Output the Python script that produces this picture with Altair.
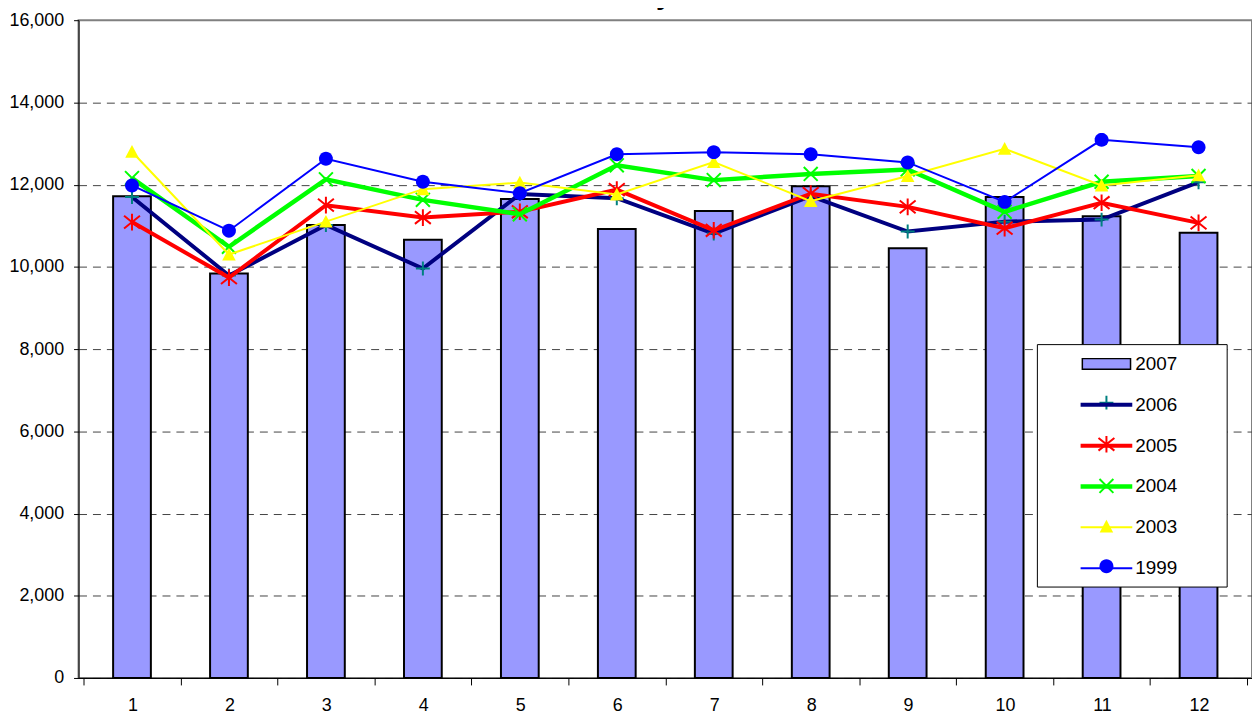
import math
import altair as alt
import pandas as pd

# ---- data ----
months = list(range(1, 13))
series_names = ["2007", "2006", "2005", "2004", "2003", "1999"]
y2007 = [11720, 9840, 11020, 10660, 11650, 10920, 11360, 11960, 10450, 11700, 11230, 10830]
y2006 = [11700, 9790, 11020, 9960, 11770, 11670, 10810, 11720, 10860, 11100, 11150, 12060]
y2005 = [11090, 9740, 11500, 11200, 11340, 11880, 10890, 11780, 11460, 10940, 11560, 11070]
y2004 = [12160, 10490, 12130, 11630, 11280, 12470, 12110, 12260, 12370, 11340, 12070, 12210]
y2003 = [12800, 10300, 11100, 11890, 12050, 11760, 12550, 11600, 12210, 12870, 11980, 12230]
y1999 = [11980, 10880, 12630, 12070, 11790, 12740, 12790, 12740, 12540, 11580, 13090, 12910]
y_ticks = list(range(0, 16001, 2000))
x_tick_positions = [m - 0.5 for m in months] + [12.5]

series_values = {"2007": y2007, "2006": y2006, "2005": y2005,
                 "2004": y2004, "2003": y2003, "1999": y1999}

rows = []
for name, vals in series_values.items():
    for m, v in zip(months, vals):
        rows.append({"month": m, "value": v, "series": name})
df = pd.DataFrame(rows)

# ---- styles ----
FONT = "Liberation Sans"
BAR_FILL = "#9999FF"
PLUS = "M-0.875,0H0.875M0,-0.875V0.875"
STAR = "M-1,-0.8L1,0.8M-1,0.8L1,-0.8M0,-1.05V1.05"
XMARK = "M-0.875,-0.875L0.875,0.875M-0.875,0.875L0.875,-0.875"
TRI = "M0,-0.85L0.85,0.75L-0.85,0.75Z"
_pts = [(0.875 * math.cos(2 * math.pi * k / 28), 0.875 * math.sin(2 * math.pi * k / 28)) for k in range(28)]
CIRC = "M" + "L".join(f"{px:.3f},{py:.3f}" for px, py in _pts) + "Z"
BLANK = "M-1,0H1"
# legend line/bar symbols (drawn at symbolSize 100 -> 5 px per unit)
RECT_L = "M-4.85,-1.08H4.85V1.08H-4.85Z"
LINE_L = "M-5.2,0H5.2"

# name, line colour, line width, marker path, marker colour, filled marker
cfg = [
    ("2006", "#000080", 4, PLUS, "#008080", False),
    ("2005", "#FF0000", 4, STAR, "#FF0000", False),
    ("2004", "#00FF00", 4.5, XMARK, "#00FF00", False),
    ("2003", "#FFFF00", 2, TRI, "#FFFF00", True),
    ("1999", "#0000FF", 2, CIRC, "#0000FF", True),
]

x_axis = alt.Axis(
    values=x_tick_positions, title=None, tickSize=7, labelPadding=12,
    labelExpr="datum.value < 12 ? format(datum.value + 0.5, 'd') : ''",
    labelOffset=49.2, labelFlush=False, labelOverlap=False, labelBound=False,
    grid=False, labelFontSize=18,
)
y_axis = alt.Axis(
    values=y_ticks, title=None, format=",d", tickSize=5, labelPadding=10,
    grid=True, gridDash=[8, 6], gridColor="#444444",
    gridOpacity={"condition": {"test": "datum.value >= 16000", "value": 0}, "value": 1},
    labelFontSize=18,
)
x_enc = alt.X("month:Q", scale=alt.Scale(domain=[0.5, 12.5], nice=False, zero=False), axis=x_axis)
y_enc = alt.Y("value:Q", scale=alt.Scale(domain=[0, 16000], nice=False), axis=y_axis)

base = alt.Chart(df)
layers = [
    base.transform_filter(alt.datum.series == "2007")
    .mark_bar(size=38, fill=BAR_FILL, stroke="black", strokeWidth=2)
    .encode(x=x_enc, y=y_enc)
]
for name, color, lw, path, mcolor, filled in cfg:
    sub = base.transform_filter(alt.datum.series == name)
    layers.append(sub.mark_line(color=color, strokeWidth=lw).encode(x=x_enc, y=y_enc))
    layers.append(
        sub.mark_point(shape=path, size=256, filled=filled, color=mcolor,
                       strokeWidth=2, opacity=1).encode(x=x_enc, y=y_enc)
    )

# ---- legend: line / bar symbols with labels (drawn above the frame) ----
legA = alt.Legend(title=None, orient="none", legendX=1025, legendY=336.5,
                  padding=0, symbolSize=100, labelFont=FONT, labelFontSize=19,
                  labelColor="black", labelOffset=19.5, symbolOffset=0,
                  rowPadding=21.1, zindex=2)
line_colors = ["#000000"] + [c[1] for c in cfg]
line_widths = [1.5] + [c[2] for c in cfg]
layers.append(
    base.transform_filter("false").mark_point(opacity=1, filled=True).encode(
        shape=alt.Shape("series:N", scale=alt.Scale(domain=series_names, range=[RECT_L] + [LINE_L] * 5), legend=legA),
        fill=alt.Fill("series:N", scale=alt.Scale(domain=series_names, range=[BAR_FILL] + ["transparent"] * 5), legend=legA),
        stroke=alt.Stroke("series:N", scale=alt.Scale(domain=series_names, range=line_colors), legend=legA),
        strokeWidth=alt.StrokeWidth("series:N", scale=alt.Scale(type="ordinal", domain=series_names, range=line_widths), legend=legA),
    )
)
# ---- legend: marker symbols + white frame (below) ----
legB = alt.Legend(title=None, orient="none", legendX=964.5, legendY=326,
                  padding=9.5, symbolSize=256, symbolStrokeWidth=2,
                  labelFont=FONT, labelFontSize=19, labelColor="transparent",
                  labelOffset=59.7, symbolOffset=51, strokeColor="black",
                  fillColor="white", rowPadding=17.9, zindex=1)
mk_paths = [BLANK] + [c[3] for c in cfg]
mk_fill = ["transparent"] + [c[4] if c[5] else "transparent" for c in cfg]
mk_stroke = ["transparent"] + [("transparent" if c[5] else c[4]) for c in cfg]
layers.append(
    base.transform_filter("false").mark_point(opacity=1, filled=True).encode(
        shape=alt.Shape("series:N", scale=alt.Scale(domain=series_names, range=mk_paths), legend=legB),
        fill=alt.Fill("series:N", scale=alt.Scale(domain=series_names, range=mk_fill), legend=legB),
        stroke=alt.Stroke("series:N", scale=alt.Scale(domain=series_names, range=mk_stroke), legend=legB),
    )
)

chart = (
    alt.layer(*layers)
    .resolve_scale(shape="independent", fill="independent", stroke="independent",
                   strokeWidth="independent")
    .properties(
        width=1181, height=662,
        title=alt.Title("Total City Tons", font=FONT, fontSize=29, fontWeight="bold",
                        color="black", dx=-20.5, dy=14, anchor="middle", frame="group",
                        baseline="alphabetic", offset=-8),
        autosize=alt.AutoSizeParams(type="none"),
        padding={"left": 71, "top": 10, "right": 0, "bottom": 37},
    )
    .configure_view(stroke="#808080", strokeWidth=2)
    .configure_axis(labelFont=FONT, labelColor="black", domainColor="black",
                    tickColor="black", domainWidth=1, tickWidth=1)
)

chart.save("out.html", embed_options={"renderer": "svg", "actions": False})
